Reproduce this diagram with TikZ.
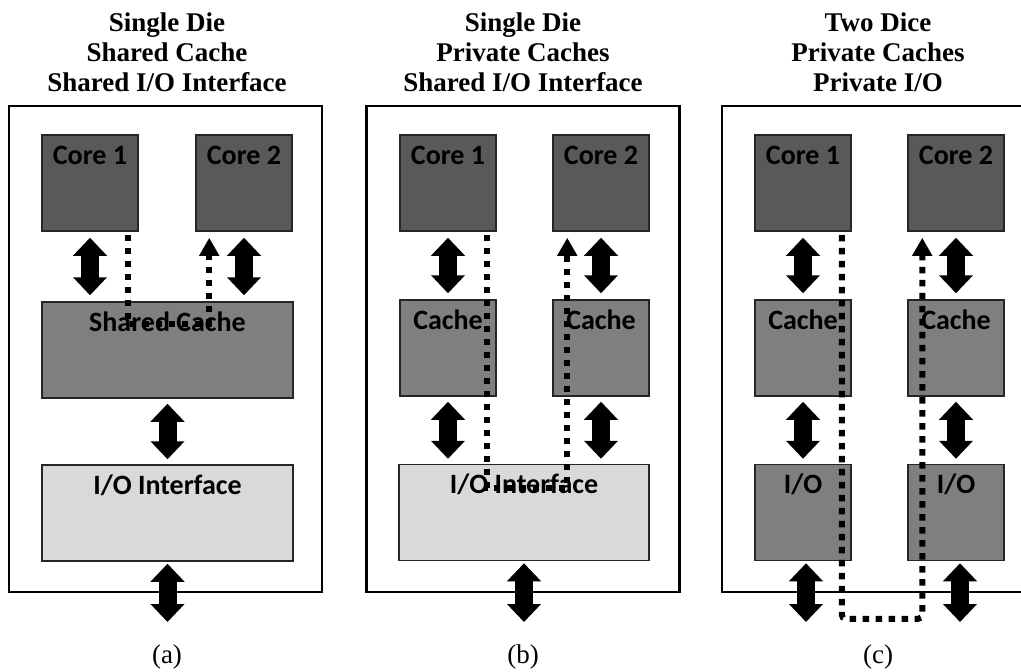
\documentclass[tikz,border=0pt]{standalone}
\usepackage{fontspec}
\setmainfont{Liberation Serif}
\newfontfamily\boxfont{Carlito}
\usetikzlibrary{arrows.meta}

\definecolor{coregray}{HTML}{595959}
\definecolor{cachegray}{HTML}{7F7F7F}
\definecolor{iogray}{HTML}{D9D9D9}
\definecolor{edgegray}{HTML}{262626}

\begin{document}
\begin{tikzpicture}[
  x=1pt,y=-1pt,
  die/.style={draw,line width=2.5pt,minimum width=313pt,minimum height=486pt,inner sep=0pt},
  unit/.style={draw=edgegray,line width=1.5pt,minimum width=96pt,minimum height=96pt,inner sep=0pt},
  wide/.style={minimum width=251pt},
  tag/.style={label={[font=\boxfont\bfseries\fontsize{28}{30}\selectfont,anchor=base,yshift=-30pt,inner sep=0pt]north:#1}},
  core/.style={unit,fill=coregray,tag={#1}},
  cache/.style={unit,fill=cachegray,tag={#1}},
  iface/.style={unit,fill=iogray,tag={#1}},
  title/.style={align=center,anchor=north,inner sep=0pt,font=\bfseries\fontsize{27}{30}\selectfont},
  caption/.style={anchor=base,inner sep=0pt,font=\fontsize{27}{30}\selectfont},
  bus/.style={line width=18pt,{Triangle[width=33pt,length=18pt]}-{Triangle[width=33pt,length=18pt]},shorten <=#1,shorten >=#1},
  bus/.default=5pt,
  probe/.style={line width=6pt,dash pattern=on 6.5pt off 6.5pt,-{Triangle[width=19pt,length=18pt]},shorten <=3pt,shorten >=6pt}
]
\useasboundingbox (0,0) rectangle (1021,672);

% titles
\node[title] (ta) at (167,13) {Single Die\\Shared Cache\\Shared I/O Interface};
\node[title] (tb) at (523,13) {Single Die\\Private Caches\\Shared I/O Interface};
\node[title] (tc) at (878,13) {Two Dice\\Private Caches\\Private I/O};

% dies
\node[die] (diea) at (165.5,349) {};
\node[die] (dieb) at (523,349) {};
\node[die] (diec) at (878.5,349) {};

% (a) shared cache
\node[core=Core 1] (core1a) at (90,183) {};
\node[core=Core 2] (core2a) at (244,183) {};
\node[cache=Shared Cache,wide] (cachea) at (167.5,350) {};
\node[iface=I/O Interface,wide] (ioa) at (167.5,513) {};
\coordinate (outa) at (167.5,622);

\draw[bus=6pt] (core1a) -- (core1a |- cachea.north);
\draw[bus=6pt] (core2a) -- (core2a |- cachea.north);
\draw[bus] (cachea) -- (ioa);
\draw[bus=0pt,shorten <=2pt] (ioa) -- (outa);
\draw[probe] ([xshift=-11pt]core1a.south east) -- ++(0,92) -| ([xshift=14pt]core2a.south west);

% (b) private caches
\node[core=Core 1] (core1b) at (448,183) {};
\node[core=Core 2] (core2b) at (601,183) {};
\node[cache=Cache] (cache1b) at (448,348) {};
\node[cache=Cache] (cache2b) at (601,348) {};
\node[iface=I/O Interface,minimum width=250pt] (iob) at (524,512.5) {};
\coordinate (outb) at (524,622);

\draw[bus=6pt] (core1b) -- (cache1b);
\draw[bus=6pt] (core2b) -- (cache2b);
\draw[bus] (cache1b) -- (cache1b |- iob.north);
\draw[bus] (cache2b) -- (cache2b |- iob.north);
\draw[bus=0pt,shorten <=2pt] (iob) -- (outb);
\draw[probe] ([xshift=-10pt]core1b.south east) -- ++(0,256) -| ([xshift=15pt]core2b.south west);

% (c) two dice
\node[core=Core 1] (core1c) at (803,183) {};
\node[core=Core 2] (core2c) at (956,183) {};
\node[cache=Cache] (cache1c) at (803,348) {};
\node[cache=Cache] (cache2c) at (956,348) {};
\node[cache=I/O] (io1c) at (803,512.5) {};
\node[cache=I/O] (io2c) at (956,512.5) {};
\coordinate (out1c) at (806,622);
\coordinate (out2c) at (960,622);

\draw[bus=6pt] (core1c) -- (cache1c);
\draw[bus=6pt] (core2c) -- (cache2c);
\draw[bus] (cache1c) -- (io1c);
\draw[bus] (cache2c) -- (io2c);
\draw[bus=0pt,shorten <=2pt] (io1c.south -| out1c) -- (out1c);
\draw[bus=0pt,shorten <=2pt] (io2c.south -| out2c) -- (out2c);
\draw[probe,rounded corners=4pt] ([xshift=-10pt]core1c.south east) -- ++(0,387) -| ([xshift=15pt]core2c.south west);

% captions
\node[caption] (capa) at (167,663) {(a)};
\node[caption] (capb) at (523,663) {(b)};
\node[caption] (capc) at (878,663) {(c)};
\end{tikzpicture}
\end{document}
